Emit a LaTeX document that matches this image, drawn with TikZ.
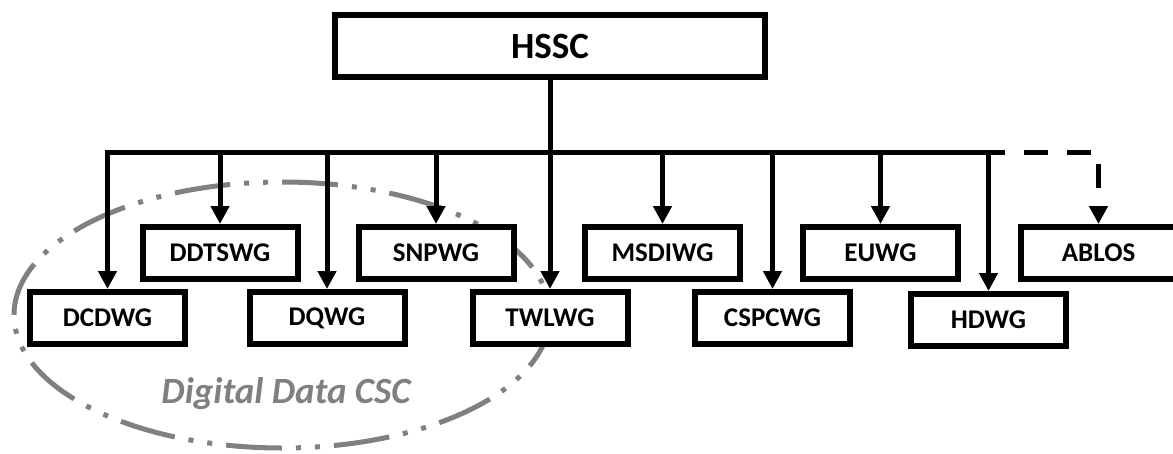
\documentclass[tikz,border=0pt]{standalone}
\usepackage{fontspec}
\setmainfont{Carlito}
\usetikzlibrary{arrows.meta}
\definecolor{grayc}{HTML}{808080}
\begin{document}
\begin{tikzpicture}[x=1pt,y=-1pt,
  box/.style={draw=black, line width=6pt, fill=white, minimum width=155pt, minimum height=52pt, inner sep=0pt, font=\fontsize{27}{27}\selectfont\bfseries},
  topbox/.style={box, minimum width=430pt, minimum height=62pt, font=\fontsize{37}{37}\selectfont\bfseries},
  conn/.style={line width=5pt},
  arr/.style={conn, -{Triangle[length=18pt,width=18pt]}},
  dashconn/.style={arr, dash pattern=on 24pt off 19pt, dash phase=24pt},
  groupline/.style={draw=grayc, line width=5pt, dash pattern=on 56pt off 14pt on 5pt off 14pt on 5pt off 14pt},
  grouplabel/.style={text=grayc, font=\fontsize{37}{37}\selectfont\bfseries\itshape, anchor=base, inner sep=0pt}
]
\useasboundingbox (0,0) rectangle (1173,453);
% group ellipse (behind everything)
\draw[groupline] (282,315) ellipse [x radius=268, y radius=133];
% nodes
\node[topbox] (HSSC) at (550,46) {HSSC};
\node[box] (DCDWG)  at (107.5,318) {DCDWG};
\node[box] (DDTSWG) at (220,253) {DDTSWG};
\node[box] (DQWG)   at (327,318) {DQWG};
\node[box] (SNPWG)  at (436,253) {SNPWG};
\node[box] (TWLWG)  at (550,318) {TWLWG};
\node[box] (MSDIWG) at (662.5,253) {MSDIWG};
\node[box] (CSPCWG) at (772.5,318) {CSPCWG};
\node[box] (EUWG)   at (880.5,253) {EUWG};
\node[box] (HDWG)   at (988.5,320) {HDWG};
\node[box] (ABLOS)  at (1098.5,253) {ABLOS};
% bar
\coordinate (bar) at (550,152);
\coordinate (barend) at (1005,152);
\draw[conn] (HSSC.south) -- (bar);
\draw[arr] (barend) -- (DCDWG.north |- bar) -- (DCDWG.north);
\foreach \n in {DDTSWG,DQWG,SNPWG,TWLWG,MSDIWG,CSPCWG,EUWG,HDWG}
  \draw[arr] (\n.north |- bar) -- (\n.north);
\draw[dashconn] (barend) -- (ABLOS.north |- bar) -- (ABLOS.north);
% group label
\node[grouplabel] (lbl) at (286,403) {Digital Data CSC};
\end{tikzpicture}
\end{document}
